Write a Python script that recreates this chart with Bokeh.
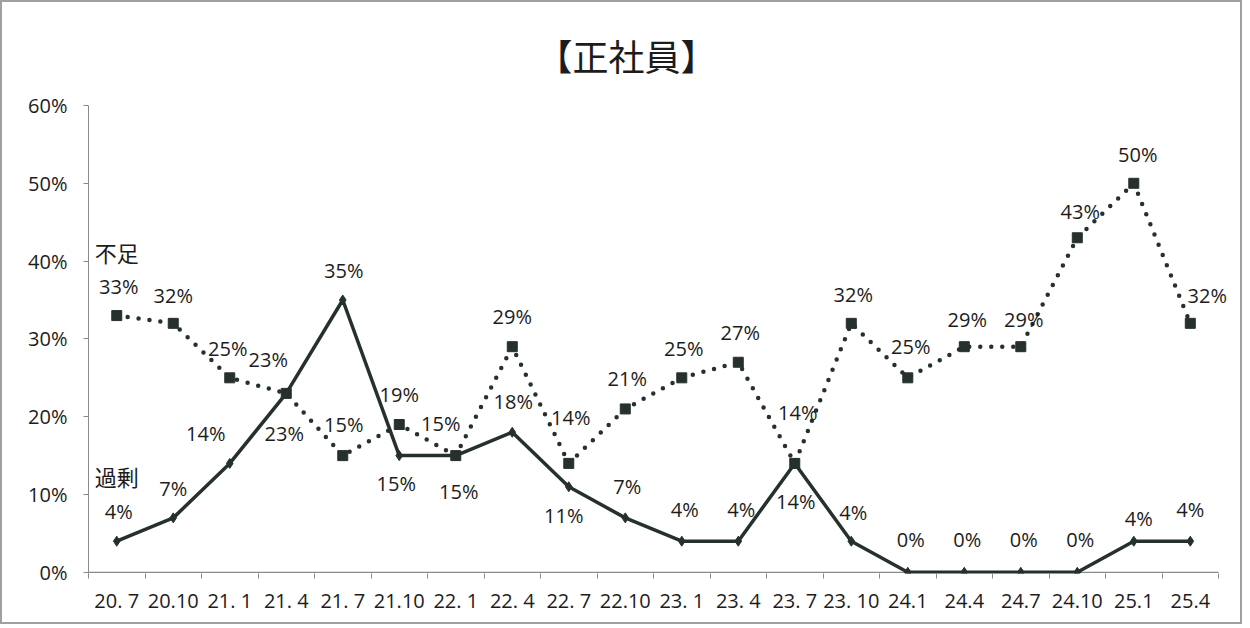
from bokeh.plotting import figure
from bokeh.models import ColumnDataSource, FixedTicker, Range1d, Label, LabelSet
from bokeh.core.properties import value
from bokeh.embed import file_html
from bokeh.resources import INLINE

# ---- data ----
periods = ["20. 7", "20.10", "21. 1", "21. 4", "21. 7", "21.10", "22. 1", "22. 4",
           "22. 7", "22.10", "23. 1", "23. 4", "23. 7", "23. 10", "24.1", "24.4",
           "24.7", "24.10", "25.1", "25.4"]
shortage = [33, 32, 25, 23, 15, 19, 15, 29, 14, 21, 25, 27, 14, 32, 25, 29, 29, 43, 50, 32]
surplus = [4, 7, 14, 23, 35, 15, 15, 18, 11, 7, 4, 4, 14, 4, 0, 0, 0, 0, 4, 4]
y_ticks = [0, 10, 20, 30, 40, 50, 60]
title_text = "【正社員】"
name_shortage = "不足"
name_surplus = "過剰"

# ---- label placement (pixels, positive = upward) ----
short_dx = [2, 0, -2, -18, 1, 0, -15, 0, 2, 2, 2, 2, 3, 2, 3, 3, 3, 3, 4, 17]
short_up = [29, 28, 29, 34, 31, 30, 32, 30, 46, 30, 29, 30, 51, 29, 31, 27, 27, 26, 29, 28]
surp_dx = [2, 0, -24, -2, 1, -3, 3, 1, -5, 2, 3, 3, 1, 2, 3, 3, 3, 3, 5, 0]
surp_up = [30, 29, 30, -40, 30, -28, -36, 31, -29, 31, 32, 32, -38, 29, 33, 33, 33, 33, 23, 32]

n = len(periods)
xs = [i + 0.5 for i in range(n)]
ink = "#26312e"
txt = "#1c1c1c"
axis_col = "#8a8a8a"
font = "Open Sans"
pad_right = 0.3  # extra room so the last label is not clipped

p = figure(width=1242, height=624, x_range=Range1d(0, n + pad_right), y_range=Range1d(-0.15, 60),
           output_backend="svg", toolbar_location=None,
           min_border_left=86, min_border_right=9, min_border_top=103, min_border_bottom=53)
p.outline_line_color = None
p.grid.visible = False
p.background_fill_color = "white"
p.border_fill_color = "white"
p.styles = {"border": "2px solid #a0a0a0"}

p.title.text = title_text
p.title.align = "left"
p.title.offset = 448
p.title.standoff = 48
p.title.vertical_align = "middle"
p.title.text_font = "Noto Sans CJK JP"
p.title.text_font_size = "36px"
p.title.text_font_style = "normal"
p.title.text_color = txt

# axes
xa = p.xaxis[0]
xa.ticker = FixedTicker(ticks=xs, minor_ticks=list(range(n + 1)))
xa.major_label_overrides = {x: lab for x, lab in zip(xs, periods)}
xa.major_tick_line_color = None
xa.minor_tick_line_color = axis_col
xa.minor_tick_in = 0
xa.minor_tick_out = 5
xa.axis_line_color = None
xa.major_label_text_font = font
xa.major_label_text_font_size = "20px"
xa.major_label_text_color = txt
xa.major_label_standoff = 7

# baseline over the category span only
p.line(x=[0, n], y=[0, 0], line_color=axis_col, line_width=1.2)

ya = p.yaxis[0]
ya.ticker = FixedTicker(ticks=y_ticks, minor_ticks=[])
ya.major_label_overrides = {t: f"{t}%" for t in y_ticks}
ya.major_tick_in = 0
ya.major_tick_out = 5
ya.major_tick_line_color = axis_col
ya.axis_line_color = axis_col
ya.major_label_text_font = font
ya.major_label_text_font_size = "20px"
ya.major_label_text_color = txt
ya.major_label_standoff = 16

# series
src = ColumnDataSource(dict(
    x=xs, s=shortage, o=surplus,
    s_lab=[f"{v}%" for v in shortage], o_lab=[f"{v}%" for v in surplus],
    sdx=short_dx, sdy=short_up, odx=surp_dx, ody=surp_up,
))

p.line("x", "s", source=src, line_color=ink, line_width=4.5, line_dash="0 11", line_cap="round")
p.scatter("x", "s", source=src, marker="square", size=10, fill_color=ink, line_color=ink)
p.line("x", "o", source=src, line_color=ink, line_width=3.5, line_join="round")
p.scatter("x", "o", source=src, marker="diamond", size=10, fill_color=ink, line_color=ink)

p.add_layout(LabelSet(x="x", y="s", text="s_lab", source=src, x_offset="sdx", y_offset="sdy",
                      text_align="center", text_baseline="middle", text_font=value(font),
                      text_font_size="20px", text_color=txt))
p.add_layout(LabelSet(x="x", y="o", text="o_lab", source=src, x_offset="odx", y_offset="ody",
                      text_align="center", text_baseline="middle", text_font=value(font),
                      text_font_size="20px", text_color=txt))

p.add_layout(Label(x=xs[0], y=shortage[0], text=name_shortage, x_offset=0, y_offset=64,
                   text_align="center", text_baseline="middle", text_font="Noto Sans CJK JP",
                   text_font_size="22px", text_color=txt))
p.add_layout(Label(x=xs[0], y=surplus[0], text=name_surplus, x_offset=0, y_offset=65,
                   text_align="center", text_baseline="middle", text_font="Noto Sans CJK JP",
                   text_font_size="22px", text_color=txt))

open("out.html", "w").write(file_html(p, INLINE))
